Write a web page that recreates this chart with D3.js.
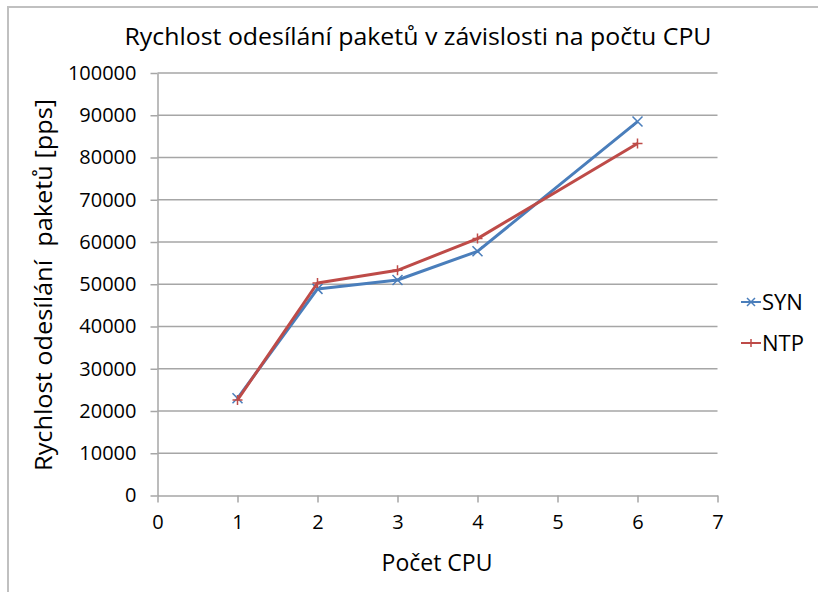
<!DOCTYPE html>
<html>
<head>
<meta charset="utf-8">
<script src="https://cdn.jsdelivr.net/npm/d3@7"></script>
<style>
    body { margin: 0; background: #fff; }
    svg text { font-family: "Open Sans", "Noto Sans", sans-serif; fill: #000; }
    .grid line { stroke: #a6a6a6; stroke-width: 1.5; }
    .axis path, .axis line { stroke: #a6a6a6; stroke-width: 1.5; }
</style>
</head>
<body>
<div class="graph"></div>
<script>
    // data
    const cpus = [1, 2, 3, 4, 6];
    const synValues = [23000, 48900, 51000, 57800, 88500];
    const ntpValues = [22600, 50300, 53300, 60800, 83300];
    const seriesNames = ["SYN", "NTP"];
    const yTicks = [0, 10000, 20000, 30000, 40000, 50000, 60000, 70000, 80000, 90000, 100000];
    const xTicks = [0, 1, 2, 3, 4, 5, 6, 7];

    (function () {
        const width = 818, height = 592;
        const colors = ["#4a7ebb", "#be4b48"];

        const svg = d3.select(".graph").append("svg")
            .attr("width", width)
            .attr("height", height);

        // outer frame of the chart
        svg.append("path")
            .attr("d", "M8,600 V7 H830")
            .attr("fill", "none")
            .attr("stroke", "#c0c0c0")
            .attr("stroke-width", 2);

        const x = d3.scaleLinear().domain([0, 7]).range([157.5, 717.5]);
        const y = d3.scaleLinear().domain([0, 100000]).range([495.5, 73]);

        // gridlines
        svg.append("g").attr("class", "grid")
            .selectAll("line")
            .data(yTicks.slice(1))
            .join("line")
            .attr("x1", x(0)).attr("x2", x(7))
            .attr("y1", d => y(d)).attr("y2", d => y(d));

        const yAxis = svg.append("g").attr("class", "axis")
            .attr("transform", "translate(" + x(0) + ",0)")
            .call(d3.axisLeft(y).tickValues(yTicks).tickFormat(d3.format("d"))
                .tickSize(7).tickSizeOuter(0).tickPadding(14));
        yAxis.selectAll("text").style("font-size", "20px");

        const xAxis = svg.append("g").attr("class", "axis")
            .attr("transform", "translate(0," + y(0) + ")")
            .call(d3.axisBottom(x).tickValues(xTicks).tickFormat(d3.format("d"))
                .tickSize(7).tickSizeOuter(0).tickPadding(12));
        xAxis.selectAll("text").style("font-size", "20px");

        // titles
        svg.append("text")
            .attr("x", 418).attr("y", 45)
            .attr("text-anchor", "middle")
            .attr("textLength", 587).attr("lengthAdjust", "spacingAndGlyphs")
            .style("font-size", "24px")
            .text("Rychlost odesílání paketů v závislosti na počtu CPU");

        svg.append("text")
            .attr("x", 437).attr("y", 571)
            .attr("text-anchor", "middle")
            .style("font-size", "23px")
            .text("Počet CPU");

        svg.append("text")
            .attr("transform", "translate(52,285) rotate(-90)")
            .attr("text-anchor", "middle")
            .attr("textLength", 372).attr("lengthAdjust", "spacingAndGlyphs")
            .style("font-size", "24px")
            .style("white-space", "pre")
            .text("Rychlost odesílání  paketů [pps]");

        // lines and markers
        const series = [synValues, ntpValues].map(function (vals, i) {
            return { name: seriesNames[i], color: colors[i], points: cpus.map((c, j) => [c, vals[j]]) };
        });

        const line = d3.line().x(d => x(d[0])).y(d => y(d[1]));

        function marker(sel, kind, color, r) {
            const p = kind === 0
                ? "M" + (-r) + "," + (-r) + "L" + r + "," + r + "M" + (-r) + "," + r + "L" + r + "," + (-r)
                : "M" + (-r) + ",0H" + r + "M0," + (-r) + "V" + r;
            sel.append("path")
                .attr("d", p)
                .attr("fill", "none")
                .attr("stroke", color)
                .attr("stroke-width", 1.5);
        }

        series.forEach(function (s, i) {
            svg.append("path")
                .datum(s.points)
                .attr("d", line)
                .attr("fill", "none")
                .attr("stroke", s.color)
                .attr("stroke-width", 3)
                .attr("stroke-linejoin", "round");

            svg.append("g").selectAll("g")
                .data(s.points)
                .join("g")
                .attr("transform", d => "translate(" + x(d[0]) + "," + y(d[1]) + ")")
                .each(function () { marker(d3.select(this), i, s.color, 5); });
        });

        // legend
        const legend = svg.append("g").selectAll("g")
            .data(series)
            .join("g")
            .attr("transform", (d, i) => "translate(741," + (302 + i * 41) + ")");
        legend.append("line")
            .attr("x1", 0).attr("x2", 20)
            .attr("stroke", d => d.color).attr("stroke-width", 2);
        legend.each(function (d, i) {
            const g = d3.select(this).append("g").attr("transform", "translate(10,0)");
            marker(g, i, d.color, 4);
        });
        legend.append("text")
            .attr("x", 21).attr("y", 8)
            .style("font-size", "22px")
            .text(d => d.name);
    })();
</script>
</body>
</html>
